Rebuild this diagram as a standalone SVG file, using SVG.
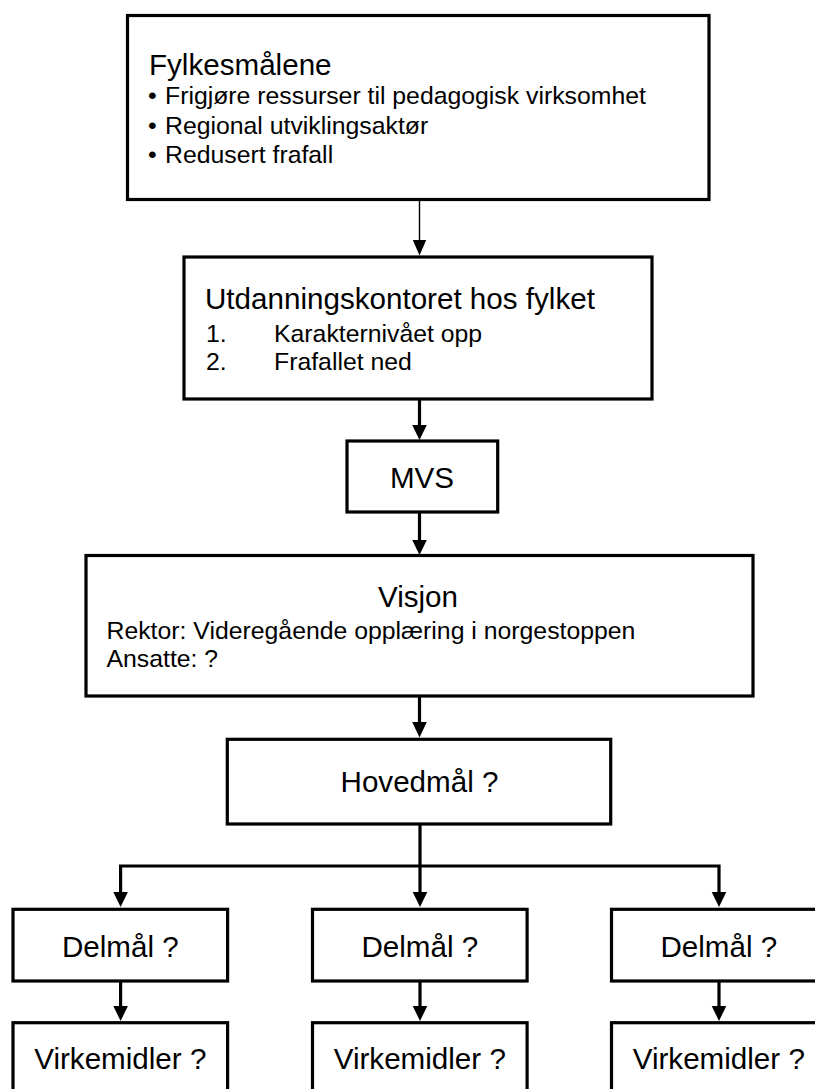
<svg xmlns="http://www.w3.org/2000/svg" width="815" height="1089" viewBox="0 0 815 1089">
<style>
.box{fill:#fff;stroke:#000;stroke-width:3.2}
.t{font-family:"Liberation Sans",Arial,sans-serif;fill:#000}
.h{font-size:29.6px}
.b{font-size:24.8px}
.c{text-anchor:middle}
.thin{stroke:#000;stroke-width:1.4;fill:none}
.thick{stroke:#000;stroke-width:3.2;fill:none}
</style>
<g id="connectors">
<line class="thin" x1="419.5" y1="200" x2="419.5" y2="241"/>
<path d="M412.8,240 L426.2,240 L419.5,255.5 Z" fill="#000"/>
<line class="thick" x1="419.5" y1="399" x2="419.5" y2="426"/>
<path d="M412.2,425 L426.8,425 L419.5,440 Z" fill="#000"/>
<line class="thick" x1="419.5" y1="512" x2="419.5" y2="541"/>
<path d="M412.2,540 L426.8,540 L419.5,555 Z" fill="#000"/>
<line class="thick" x1="419.5" y1="696" x2="419.5" y2="723"/>
<path d="M412.2,722 L426.8,722 L419.5,737.5 Z" fill="#000"/>
<line class="thick" x1="420" y1="824" x2="420" y2="893"/>
<polyline class="thick" points="120.6,893 120.6,866 719,866 719,893"/>
<path d="M113.3,892 L127.9,892 L120.6,907 Z" fill="#000"/>
<path d="M412.7,892 L427.3,892 L420,907 Z" fill="#000"/>
<path d="M711.7,892 L726.3,892 L719,907 Z" fill="#000"/>
<line class="thick" x1="120.6" y1="981" x2="120.6" y2="1007"/>
<line class="thick" x1="420" y1="981" x2="420" y2="1007"/>
<line class="thick" x1="719" y1="981" x2="719" y2="1007"/>
<path d="M113.3,1006 L127.9,1006 L120.6,1021 Z" fill="#000"/>
<path d="M412.7,1006 L427.3,1006 L420,1021 Z" fill="#000"/>
<path d="M711.7,1006 L726.3,1006 L719,1021 Z" fill="#000"/>
</g>
<g id="fylkesmalene">
<rect class="box" x="127.5" y="15.5" width="581.5" height="184"/>
<text class="t h" x="149" y="75">Fylkesmålene</text>
<text class="t b" x="148" y="104.3">•</text>
<text class="t b" x="165" y="104.3">Frigjøre ressurser til pedagogisk virksomhet</text>
<text class="t b" x="148" y="133.5">•</text>
<text class="t b" x="165" y="133.5">Regional utviklingsaktør</text>
<text class="t b" x="148" y="163">•</text>
<text class="t b" x="165" y="163">Redusert frafall</text>
</g>
<g id="utdanningskontoret">
<rect class="box" x="184" y="257" width="468" height="142"/>
<text class="t h" x="205" y="309.3">Utdanningskontoret hos fylket</text>
<text class="t b" x="206" y="341.7">1.</text>
<text class="t b" x="274" y="341.7">Karakternivået opp</text>
<text class="t b" x="206" y="370">2.</text>
<text class="t b" x="274" y="370">Frafallet ned</text>
</g>
<g id="mvs">
<rect class="box" x="347" y="441" width="150.7" height="71"/>
<text class="t h c" x="422" y="488.3">MVS</text>
</g>
<g id="visjon">
<rect class="box" x="86" y="555.5" width="667" height="140.5"/>
<text class="t h c" x="418" y="607.3">Visjon</text>
<text class="t b" x="106.5" y="639.3">Rektor: Videregående opplæring i norgestoppen</text>
<text class="t b" x="106.5" y="666.7">Ansatte: ?</text>
</g>
<g id="hovedmal">
<rect class="box" x="227.3" y="739.3" width="383.4" height="84.7"/>
<text class="t h c" x="419.5" y="792.3">Hovedmål ?</text>
</g>
<g id="delmal1">
<rect class="box" x="13" y="909.3" width="214.6" height="71.7"/>
<text class="t h c" x="120.3" y="956.7">Delmål ?</text>
</g>
<g id="delmal2">
<rect class="box" x="312.5" y="909.3" width="214.6" height="71.7"/>
<text class="t h c" x="419.8" y="956.7">Delmål ?</text>
</g>
<g id="delmal3">
<rect class="box" x="611.5" y="909.3" width="214.6" height="71.7"/>
<text class="t h c" x="718.8" y="956.7">Delmål ?</text>
</g>
<g id="virkemidler1">
<rect class="box" x="13" y="1022.7" width="214.6" height="90"/>
<text class="t h c" x="120.3" y="1069.3">Virkemidler ?</text>
</g>
<g id="virkemidler2">
<rect class="box" x="312.5" y="1022.7" width="214.6" height="90"/>
<text class="t h c" x="419.8" y="1069.3">Virkemidler ?</text>
</g>
<g id="virkemidler3">
<rect class="box" x="611.5" y="1022.7" width="214.6" height="90"/>
<text class="t h c" x="718.8" y="1069.3">Virkemidler ?</text>
</g>
</svg>
